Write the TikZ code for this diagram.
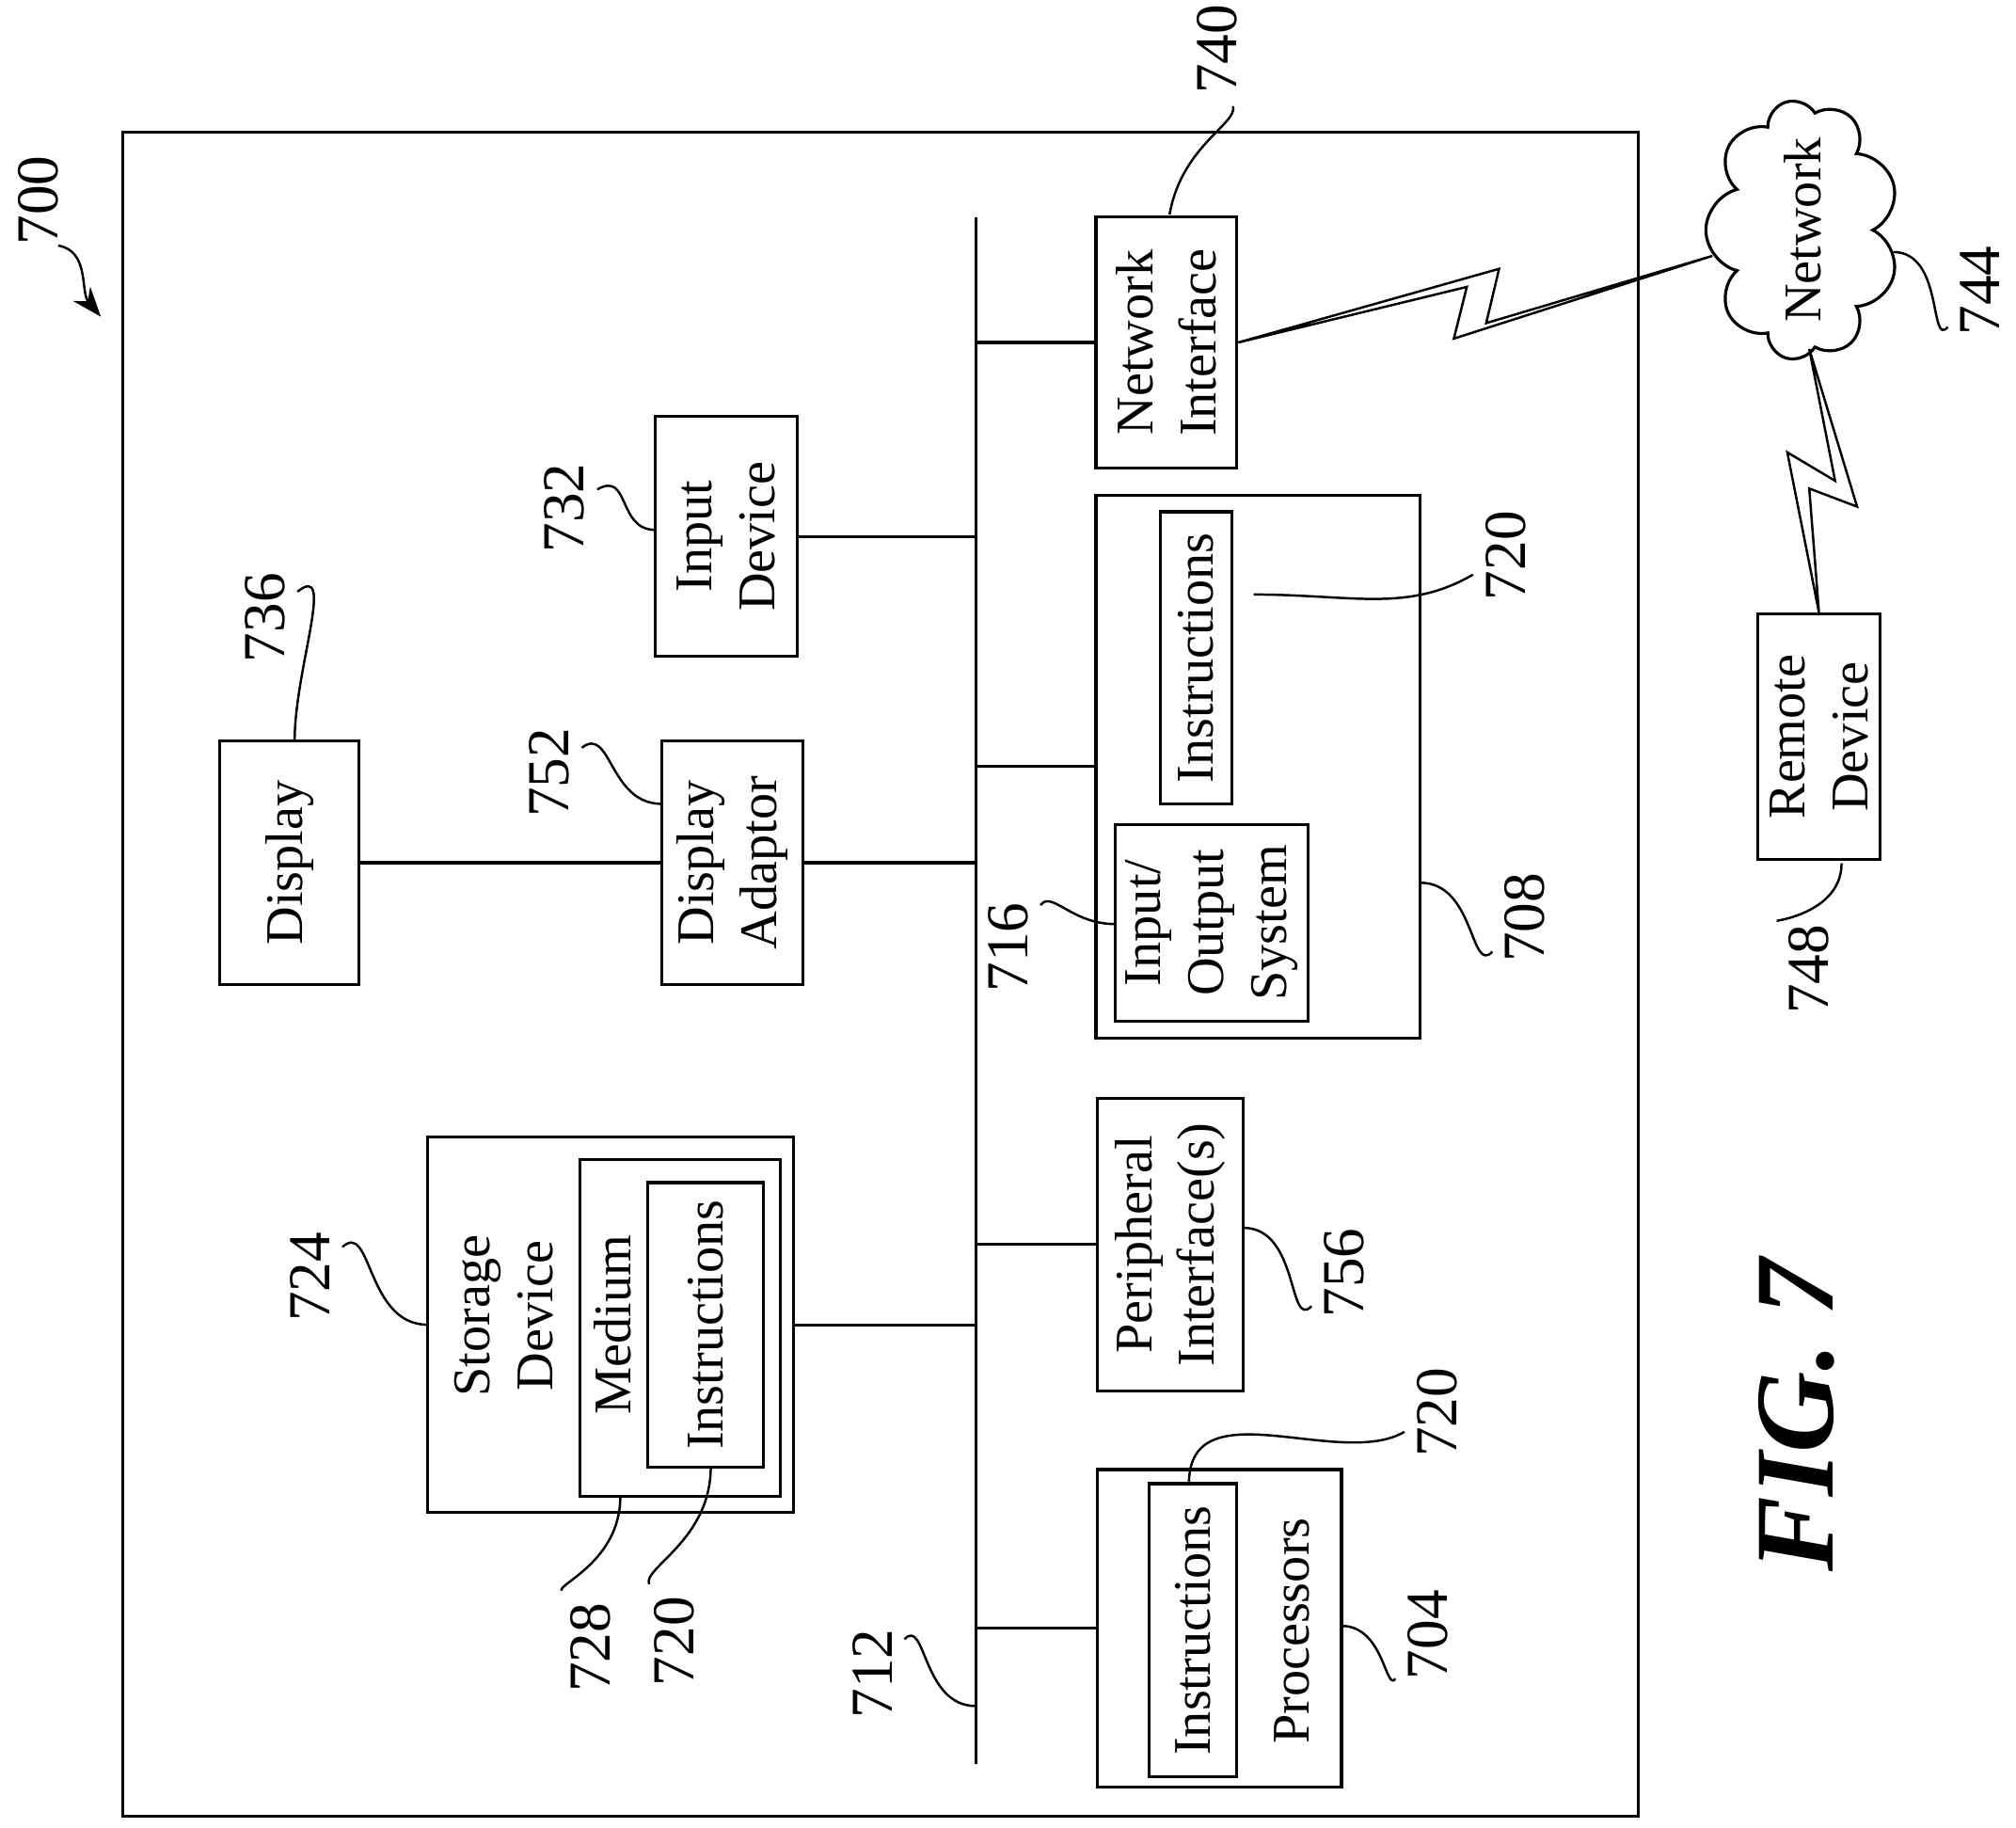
\documentclass[tikz,border=0pt]{standalone}
\usepackage{fontspec}
\setmainfont{Liberation Serif}
\usetikzlibrary{arrows.meta, shapes.symbols}
\def\pu{0.013737cm}

\begin{document}
\begin{tikzpicture}
[x=\pu, y=-\pu, line width=0.9pt,
 blk/.style={draw, rotate=90, align=center, inner sep=0pt, font=\fontsize{16}{19}\selectfont},
 txt/.style={rotate=90, align=center, font=\fontsize{16}{19}\selectfont},
 num/.style={rotate=90, font=\fontsize{18}{20}\selectfont},
 ld/.style={line width=0.7pt}]
\useasboundingbox (0,0) rectangle (1560,1414);
\draw (95,102) rectangle (1268,1405);
\coordinate (busT) at (755,168); \coordinate (busB) at (755,1365);
\draw (busT) -- (busB);
% blocks (width and height as drawn on the page)
\node[blk, minimum width=194*\pu, minimum height=109*\pu] (ni) at (902.5,265) {Network\\Interface};
\node[blk, minimum width=186*\pu, minimum height=110*\pu] (inp) at (562,415) {Input\\Device};
\node[blk, minimum width=189*\pu, minimum height=108*\pu] (disp) at (224,667.5) {Display};
\node[blk, minimum width=189*\pu, minimum height=109*\pu] (dad) at (566.5,667.5) {Display\\Adaptor};
\node[blk, minimum width=420*\pu, minimum height=251*\pu] (mem) at (973.5,593) {};
\node[blk, minimum width=226*\pu, minimum height=55*\pu] (minst) at (925.5,509) {Instructions};
\node[blk, minimum width=152*\pu, minimum height=149*\pu] (bios) at (937.5,714) {Input/\\Output\\System};
\node[blk, minimum width=226*\pu, minimum height=113*\pu] (peri) at (905.5,963) {Peripheral\\Interface(s)};
\node[blk, minimum width=290*\pu, minimum height=283*\pu] (stor) at (472.5,1025) {};
\node[txt] (storT) at (390,1018) {Storage\\Device};
\node[blk, minimum width=261*\pu, minimum height=155*\pu] (med) at (526.5,1027.5) {};
\node[txt] (medT) at (474,1025) {Medium};
\node[blk, minimum width=220*\pu, minimum height=90*\pu] (sinst) at (546,1025) {Instructions};
\node[blk, minimum width=246*\pu, minimum height=189*\pu] (proc) at (943.5,1260) {};
\node[txt] (procT) at (1000,1262) {Processors};
\node[blk, minimum width=227*\pu, minimum height=68*\pu] (pinst) at (923,1261.5) {Instructions};
\node[blk, minimum width=190*\pu, minimum height=95*\pu] (rem) at (1407.5,570) {Remote\\Device};
\node[draw, cloud, cloud puffs=9, cloud ignores aspect, rotate=90, minimum width=192*\pu,
  minimum height=150*\pu, inner sep=0pt, font=\fontsize{16}{19}\selectfont] (net) at (1395,178) {Network};
% bus connections
\draw (busT |- ni) -- (ni);
\draw (busT |- inp) -- (inp);
\draw (disp) -- (dad);
\draw (busT |- dad) -- (dad);
\draw (busT |- mem) -- (mem);
\draw (busT |- peri) -- (peri);
\draw (busT |- stor) -- (stor);
\draw (busT |- proc) -- (proc);
% wireless links
\coordinate (netL) at (1325,198);
\coordinate (netB) at (1400,270);
\draw[line width=0.7pt] (ni.south) -- (1160,208) -- (1150,250) -- (netL)
  -- (1125,262) -- (1135,222) -- cycle;
\draw[line width=0.7pt] (netB) -- (1420,372) -- (1383,350) -- (rem.east)
  -- (1400,378) -- (1437,392) -- cycle;
% reference numerals
\node[num] (l700) at (30,155) {700};
\draw[ld, -{Stealth[length=9pt]}] (45,190) to[out=-10, in=130] (78,245);
\node[num] (l740) at (942,38) {740};
\draw[ld] (l740) to[out=-100, in=80] (905,166);
\node[num] (l744) at (1532,225) {744};
\draw[ld] (l744) to[out=180, in=0] (1465,195);
\node[num] (l732) at (437,393) {732};
\draw[ld] (l732) to[out=-30, in=180] (507,410);
\node[num] (l736) at (205,478) {736};
\draw[ld] (l736) to[out=0, in=90] (228,573);
\node[num] (l752) at (425,598) {752};
\draw[ld] (l752) to[out=-10, in=180] (512,622);
\node[num] (l716) at (780,733) {716};
\draw[ld] (l716) to[out=0, in=180] (863,715);
\node[num] (l720a) at (1165,430) {720};
\draw[ld] (l720a) to[out=180, in=0] (970,460);
\node[num] (l708) at (1180,710) {708};
\draw[ld] (l708) to[out=180, in=0] (1099,683);
\node[num] (l724) at (240,988) {724};
\draw[ld] (l724) to[out=0, in=180] (331,1025);
\node[num] (l756) at (1040,985) {756};
\draw[ld] (l756) to[out=180, in=0] (962,950);
\node[num] (l728) at (457,1275) {728};
\draw[ld] (l728) to[out=90, in=-90] (480,1158);
\node[num] (l720b) at (522,1270) {720};
\draw[ld] (l720b) to[out=90, in=-90] (550,1135);
\node[num] (l712) at (675,1295) {712};
\draw[ld] (l712) to[out=0, in=180] (755,1320);
\node[num] (l720c) at (1112,1093) {720};
\draw[ld] (l720c) to[out=180, in=90] (920,1148);
\node[num] (l704) at (1105,1265) {704};
\draw[ld] (l704) to[out=180, in=0] (1038,1258);
\node[num] (l748) at (1400,750) {748};
\draw[ld] (l748) to[out=90, in=-90] (1425,668);
\node[rotate=90, font=\fontsize{34}{36}\selectfont\bfseries\itshape] (fig) at (1390,1095) {FIG. 7};
\end{tikzpicture}
\end{document}
